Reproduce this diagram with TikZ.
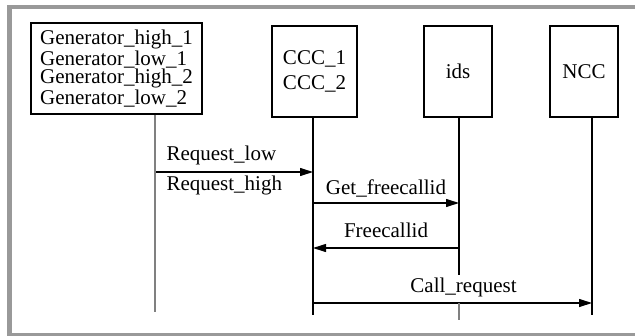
\documentclass[tikz,border=0pt]{standalone}
\usepackage{fontspec}
\setmainfont{Liberation Serif}
\usetikzlibrary{arrows.meta}
\tikzset{obj/.style={draw, line width=0.6pt, minimum height=45.5pt, inner sep=0pt, font=\fontsize{10.5}{12.5}\selectfont}}
\tikzset{msg/.style={line width=0.55pt, -{Triangle[length=6.5pt,width=4pt]}}}
\tikzset{lbl/.style={font=\fontsize{10.5}{12.5}\selectfont, inner sep=0pt}}
\tikzset{life/.style={line width=0.55pt}}

\begin{document}
\begin{tikzpicture}[x=0.5pt, y=-0.5pt]
	\useasboundingbox (0,0) rectangle (635,336);
	\clip (0,0) rectangle (635,336);
	\draw[line width=2.25pt, black!40] (9.5,7) rectangle (680,335);
	% objects
	\node[obj, minimum width=85.5pt, align=left, font=\fontsize{10.5}{9.3}\selectfont] (gen) at (116.5,68.5) {Generator\_high\_1\\Generator\_low\_1\\Generator\_high\_2\\Generator\_low\_2};
	\node[obj, minimum width=42.5pt, align=center] (ccc) at (314.5,71.5) {CCC\_1\\CCC\_2};
	\node[obj, minimum width=34pt] (ids) at (458,71.5) {ids};
	\node[obj, minimum width=34pt] (ncc) at (584,71.5) {NCC};
	% lifeline ends and message heights
	\coordinate (genend) at (155,312);
	\coordinate (cccend) at (313,315);
	\coordinate (idsend) at (459,320);
	\coordinate (nccend) at (592,315);
	\coordinate (m1) at (0,172);
	\coordinate (m2) at (0,203);
	\coordinate (m3) at (0,248);
	\coordinate (m4) at (0,303);
	% messages
	\draw[msg] (genend |- m1) -- (cccend |- m1)
		node[lbl, pos=0, anchor=base west, xshift=5.5pt, yshift=5.5pt] {Request\_low}
		node[lbl, pos=0, anchor=base west, xshift=5.5pt, yshift=-9.5pt] {Request\_high};
	\draw[msg] (cccend |- m2) -- (idsend |- m2) node[lbl, midway, anchor=base, yshift=4.5pt] {Get\_freecallid};
	\draw[msg] (idsend |- m3) -- (cccend |- m3) node[lbl, midway, anchor=base, yshift=5.5pt] {Freecallid};
	\draw[msg] (cccend |- m4) -- (nccend |- m4) node[lbl, midway, anchor=base, xshift=5.5pt, yshift=5.5pt, fill=white, inner ysep=1pt] (call) {Call\_request};
	% lifelines
	\draw[life, gray] (gen.south -| genend) -- (genend);
	\draw[life] (ccc.south -| cccend) -- (cccend);
	\draw[life] (ids.south -| idsend) -- (call.north -| idsend);
	\draw[life, gray] (idsend |- m4) -- (idsend);
	\draw[life] (ncc.south -| nccend) -- (nccend);
\end{tikzpicture}
\end{document}
